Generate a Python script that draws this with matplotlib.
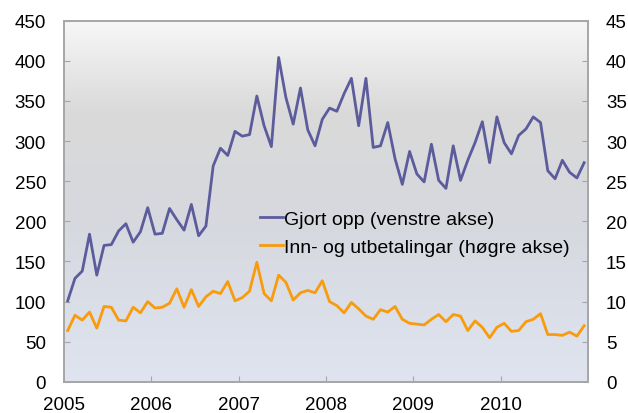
import numpy as np
import matplotlib
matplotlib.use("Agg")
import matplotlib.pyplot as plt
from matplotlib.colors import LinearSegmentedColormap

plt.rcParams['font.family'] = ['Liberation Sans', 'DejaVu Sans']

# monthly values, Jan 2005 - Dec 2010
gjort_opp = [101, 129, 138, 184, 133, 170, 171, 188, 197, 174, 187, 217,
             184, 185, 216, 202, 189, 221, 182, 194, 269, 291, 282, 312,
             306, 308, 356, 319, 293, 404, 354, 321, 366, 314, 294, 327,
             341, 337, 359, 378, 319, 378, 292, 294, 323, 278, 246, 287,
             259, 249, 296, 251, 241, 294, 251, 276, 298, 324, 273, 330,
             298, 284, 307, 315, 330, 323, 263, 253, 276, 261, 254, 273]
inn_utbet = [6.4, 8.3, 7.7, 8.7, 6.7, 9.4, 9.3, 7.7, 7.6, 9.3, 8.6, 10.0,
             9.2, 9.3, 9.8, 11.6, 9.3, 11.5, 9.4, 10.6, 11.3, 11.0, 12.5, 10.1,
             10.5, 11.3, 14.9, 11.0, 10.1, 13.3, 12.4, 10.2, 11.1, 11.4, 11.1, 12.6,
             10.0, 9.5, 8.6, 9.9, 9.1, 8.2, 7.8, 9.0, 8.7, 9.4, 7.8, 7.3,
             7.2, 7.1, 7.8, 8.4, 7.5, 8.4, 8.2, 6.4, 7.6, 6.8, 5.5, 6.8,
             7.3, 6.3, 6.4, 7.5, 7.8, 8.5, 5.9, 5.9, 5.8, 6.2, 5.7, 7.0]
years = [2005, 2006, 2007, 2008, 2009, 2010]
labels = ["Gjort opp (venstre akse)", "Inn- og utbetalingar (høgre akse)"]

months = 2005 + (np.arange(len(gjort_opp)) + 0.5) / 12.0

fig = plt.figure(figsize=(6.28, 4.14), dpi=100)
ax = fig.add_axes([0.102, 0.075, 0.834, 0.873])
ax2 = ax.twinx()

# background gradient: light top, grey middle, bluish bottom
cmap = LinearSegmentedColormap.from_list(
    "bg", [(0.0, "#dfe4f0"), (0.45, "#d6d8de"), (0.75, "#dadada"), (1.0, "#f7f7f7")])
grad = np.linspace(0, 1, 256).reshape(-1, 1)
ax.imshow(grad, aspect="auto", cmap=cmap, origin="lower",
          extent=[0, 1, 0, 1], transform=ax.transAxes, zorder=0)

l1, = ax.plot(months, gjort_opp, color="#5c5c9c", lw=2.0, zorder=3)
l2, = ax2.plot(months, inn_utbet, color="#f89b0c", lw=2.0, zorder=3)

ax.set_xlim(2005, 2011)
ax.set_ylim(0, 450)
ax2.set_ylim(0, 45)
ax.set_yticks(np.arange(0, 451, 50))
ax2.set_yticks(np.arange(0, 46, 5))
ax.set_xticks(years)
ax.set_xticklabels([str(y) for y in years])

for a in (ax, ax2):
    for s in a.spines.values():
        s.set_color("#a6a6a6")
        s.set_linewidth(1.2)
    a.tick_params(direction="in", length=4, color="#a6a6a6", labelsize=13.5)
ax.tick_params(axis="y", pad=13)
ax.tick_params(axis="x", pad=10)
ax2.tick_params(axis="y", pad=13)

ax.legend([l1, l2], labels, loc="center left", bbox_to_anchor=(0.374, 0.412),
          frameon=False, fontsize=14, handlelength=1.2, handletextpad=0.05,
          labelspacing=0.5, borderpad=0, borderaxespad=0)

fig.savefig("out.png", dpi=100)
